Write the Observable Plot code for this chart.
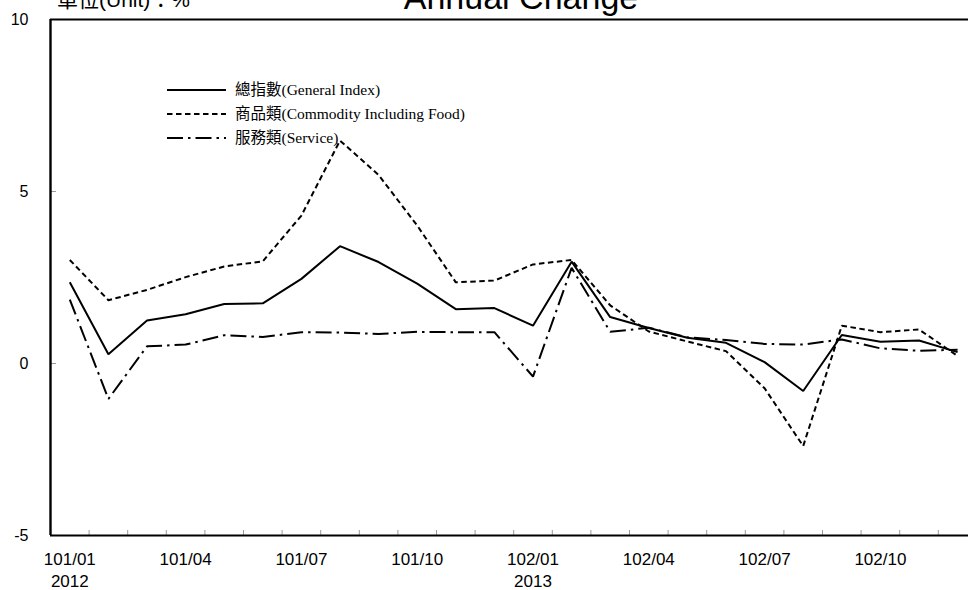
<!DOCTYPE html>
<html>
<head>
<meta charset="utf-8">
<script src="https://cdn.jsdelivr.net/npm/d3@7"></script>
<script src="https://cdn.jsdelivr.net/npm/@observablehq/plot@0.6"></script>
<style>
  html, body { margin: 0; padding: 0; background: white; overflow: hidden; }
  #wrap { position: relative; width: 968px; height: 590px; overflow: hidden; }
  #overlay { position: absolute; left: 0; top: 0; pointer-events: none; }
</style>
</head>
<body>
<div id="wrap"></div>
<script>
// ---- data ----
const months = ["101/01","101/02","101/03","101/04","101/05","101/06","101/07","101/08","101/09","101/10","101/11","101/12",
                "102/01","102/02","102/03","102/04","102/05","102/06","102/07","102/08","102/09","102/10","102/11","102/12"];
const general   = [2.36, 0.27, 1.25, 1.43, 1.73, 1.75, 2.46, 3.41, 2.95, 2.32, 1.58, 1.61,
                   1.10, 2.96, 1.35, 1.03, 0.75, 0.60, 0.04, -0.80, 0.83, 0.63, 0.67, 0.33];
const commodity = [3.01, 1.84, 2.14, 2.51, 2.82, 2.97, 4.30, 6.48, 5.48, 4.01, 2.36, 2.41,
                   2.88, 3.01, 1.69, 0.93, 0.64, 0.36, -0.72, -2.40, 1.10, 0.91, 0.99, 0.22];
const service   = [1.86, -1.03, 0.50, 0.55, 0.82, 0.77, 0.91, 0.90, 0.86, 0.92, 0.91, 0.91,
                   -0.38, 2.78, 0.92, 1.04, 0.76, 0.68, 0.57, 0.55, 0.70, 0.44, 0.37, 0.40];
const seriesNames = ["總指數(General Index)", "商品類(Commodity Including Food)", "服務類(Service)"];
const xTickLabels = ["101/01","101/04","101/07","101/10","102/01","102/04","102/07","102/10"];
const yearLabels = ["2012", "2013"];
const yearStartMonths = ["101/01", "102/01"];
const yTicks = [-5, 0, 5, 10];
const titleText = "Annual Change";
const unitText = "單位(Unit)：%";

// ---- styles ----
const dashes = [null, "5.5,3.5", "16,5,2.5,5"];
const step = 38.6;
const boundaries = months.slice(1).map((m, i) => i + 0.5);

const lineOpts = (k) => ({
  x: (d, i) => i, y: d => d,
  stroke: "black", strokeWidth: 2,
  strokeLinecap: "butt", strokeLinejoin: "miter",
  strokeDasharray: dashes[k]
});

const plot = Plot.plot({
  width: 968, height: 590,
  marginLeft: 50, marginRight: 0, marginTop: 19, marginBottom: 55,
  x: {type: "linear", domain: [-0.5, months.length - 0.5], range: [50, 50 + months.length * step], axis: null},
  y: {domain: [-5, 10], axis: null},
  style: {fontFamily: "'Liberation Sans', Arial, sans-serif", background: "white", color: "black"},
  marks: [
    // category boundary ticks on bottom axis (pointing inward)
    Plot.ruleX(boundaries, {x: d => d, insetTop: 511, stroke: "#9a9a9a", strokeWidth: 1}),
    // y ticks (inward)
    Plot.ruleY(yTicks, {y: d => d, insetRight: 912, stroke: "#9a9a9a", strokeWidth: 1}),
    // series
    Plot.line(general, lineOpts(0)),
    Plot.line(commodity, lineOpts(1)),
    Plot.line(service, lineOpts(2)),
    // frame
    Plot.ruleY([yTicks[0], yTicks[yTicks.length - 1]], {y: d => d, stroke: "black", strokeWidth: 2}),
    Plot.ruleX([-0.5], {x: d => d, stroke: "black", strokeWidth: 2.4}),
    // y labels
    Plot.text(yTicks, {y: d => d, text: d => String(d), frameAnchor: "left", dx: -22, textAnchor: "end", fontSize: 16, fill: "black"}),
    // x labels
    Plot.text(xTickLabels, {x: d => months.indexOf(d), text: d => d, frameAnchor: "bottom", dy: 24, lineAnchor: "middle", fontSize: 17, fill: "black"}),
    Plot.text(yearLabels, {x: (d, i) => months.indexOf(yearStartMonths[i]), text: d => d, frameAnchor: "bottom", dy: 46, lineAnchor: "middle", fontSize: 17, fill: "black"})
  ]
});

const wrap = document.getElementById("wrap");
wrap.appendChild(plot);

// overlay: title, unit, legend
const svg = d3.select(wrap).append("svg")
  .attr("id", "overlay").attr("width", 968).attr("height", 590);

svg.append("text")
  .attr("x", 521).attr("y", 8.5)
  .attr("text-anchor", "middle")
  .attr("font-family", "'Liberation Sans', Arial, sans-serif")
  .attr("font-size", 34)
  .attr("fill", "black")
  .text(titleText);

svg.append("text")
  .attr("x", 57).attr("y", 7)
  .attr("font-family", "'Liberation Sans', Arial, 'Noto Sans CJK TC', sans-serif")
  .attr("font-size", 21)
  .attr("fill", "black")
  .text(unitText);

const legend = svg.append("g");
const rowY = [90, 114, 138];
seriesNames.forEach((name, k) => {
  legend.append("line")
    .attr("x1", 167).attr("x2", 226)
    .attr("y1", rowY[k]).attr("y2", rowY[k])
    .attr("stroke", "black").attr("stroke-width", 2)
    .attr("stroke-dasharray", dashes[k]);
  legend.append("text")
    .attr("x", 235).attr("y", rowY[k] + 5)
    .attr("font-family", "'Liberation Serif', 'Times New Roman', 'Noto Sans CJK TC', serif")
    .attr("font-size", 15.5)
    .attr("fill", "black")
    .text(name);
});
</script>
</body>
</html>
